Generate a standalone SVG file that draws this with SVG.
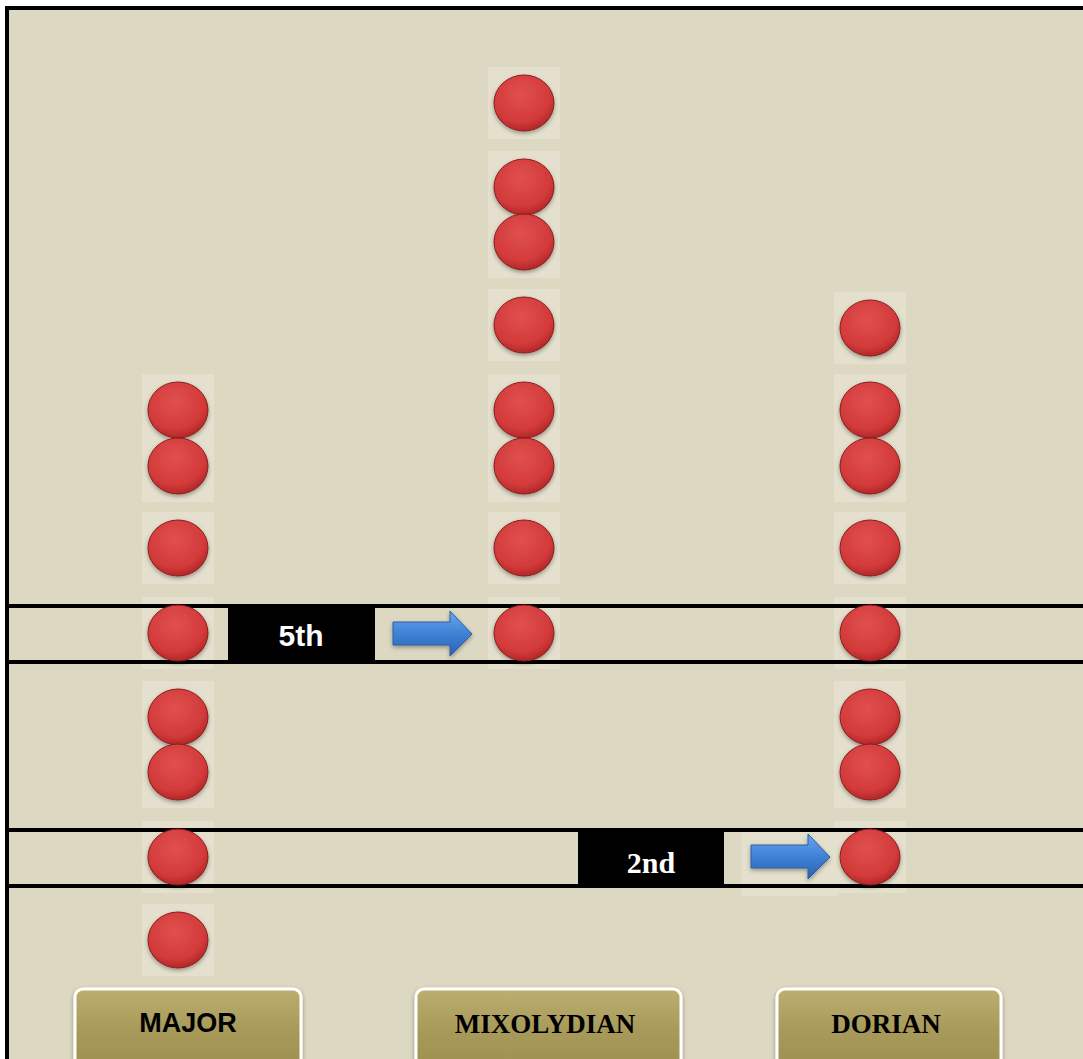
<svg xmlns="http://www.w3.org/2000/svg" width="1083" height="1059" viewBox="0 0 1083 1059">
<defs>
<radialGradient id="ball" cx="0.45" cy="0.35" r="0.7">
<stop offset="0" stop-color="#e0504f"/>
<stop offset="0.7" stop-color="#d33a3a"/>
<stop offset="1" stop-color="#a82222"/>
</radialGradient>
<linearGradient id="btn" x1="0" y1="0" x2="0" y2="1">
<stop offset="0" stop-color="#bcae70"/>
<stop offset="0.5" stop-color="#a89a5a"/>
<stop offset="1" stop-color="#9d9050"/>
</linearGradient>
<linearGradient id="arr" x1="0" y1="0" x2="0" y2="1">
<stop offset="0" stop-color="#6aa6ec"/>
<stop offset="0.5" stop-color="#3f82d6"/>
<stop offset="1" stop-color="#2a62b0"/>
</linearGradient>
<filter id="sh" x="-20%" y="-20%" width="140%" height="140%">
<feDropShadow dx="0" dy="2" stdDeviation="2" flood-color="#000" flood-opacity="0.35"/>
</filter>
<rect id="sq" x="-36" y="-36" width="72" height="72" fill="#e4e0cd"/>
<ellipse id="dot" cx="0" cy="0" rx="30" ry="28" fill="url(#ball)" stroke="#8a1c1c" stroke-width="1" filter="url(#sh)"/>
<path id="arrow" d="M0,10 H57 V-1 L79,22 L57,44 V33 H0 Z" fill="url(#arr)" stroke="#2a5fa8" stroke-width="1" filter="url(#sh)"/>
</defs>
<style>
.band{stroke:#000;stroke-width:4}
.lbl{fill:#fff;font-weight:bold;font-size:30px}
.btxt{fill:#000;font-weight:bold;font-size:27px}
</style>
<rect x="0" y="0" width="1083" height="1059" fill="#fff"/>
<rect x="7" y="8" width="1076" height="1051" fill="#ddd8c2"/>
<path d="M7,1059 V8 H1083" fill="none" stroke="#000" stroke-width="4"/>

<g id="backdrops">
<use href="#sq" x="178" y="410"/><use href="#sq" x="178" y="466"/><use href="#sq" x="178" y="548"/><use href="#sq" x="178" y="633"/>
<use href="#sq" x="178" y="717"/><use href="#sq" x="178" y="772"/><use href="#sq" x="178" y="857"/><use href="#sq" x="178" y="940"/>
<use href="#sq" x="524" y="103"/><use href="#sq" x="524" y="187"/><use href="#sq" x="524" y="242"/><use href="#sq" x="524" y="325"/>
<use href="#sq" x="524" y="410"/><use href="#sq" x="524" y="466"/><use href="#sq" x="524" y="548"/><use href="#sq" x="524" y="633"/>
<use href="#sq" x="870" y="328"/><use href="#sq" x="870" y="410"/><use href="#sq" x="870" y="466"/><use href="#sq" x="870" y="548"/>
<use href="#sq" x="870" y="633"/><use href="#sq" x="870" y="717"/><use href="#sq" x="870" y="772"/><use href="#sq" x="870" y="857"/>
<rect x="741" y="830" width="96" height="66" fill="#e4e0cd"/>
</g>

<g id="connectors">
<line class="band" x1="7" y1="606" x2="1083" y2="606"/>
<line class="band" x1="7" y1="662" x2="1083" y2="662"/>
<line class="band" x1="7" y1="830" x2="1083" y2="830"/>
<line class="band" x1="7" y1="886" x2="1083" y2="886"/>
<use href="#arrow" x="393" y="612"/>
<use href="#arrow" x="751" y="835"/>
</g>

<g id="major-dots">
<use href="#dot" x="178" y="410"/>
<use href="#dot" x="178" y="466"/>
<use href="#dot" x="178" y="548"/>
<use href="#dot" x="178" y="633"/>
<use href="#dot" x="178" y="717"/>
<use href="#dot" x="178" y="772"/>
<use href="#dot" x="178" y="857"/>
<use href="#dot" x="178" y="940"/>
</g>
<g id="mixolydian-dots">
<use href="#dot" x="524" y="103"/>
<use href="#dot" x="524" y="187"/>
<use href="#dot" x="524" y="242"/>
<use href="#dot" x="524" y="325"/>
<use href="#dot" x="524" y="410"/>
<use href="#dot" x="524" y="466"/>
<use href="#dot" x="524" y="548"/>
<use href="#dot" x="524" y="633"/>
</g>
<g id="dorian-dots">
<use href="#dot" x="870" y="328"/>
<use href="#dot" x="870" y="410"/>
<use href="#dot" x="870" y="466"/>
<use href="#dot" x="870" y="548"/>
<use href="#dot" x="870" y="633"/>
<use href="#dot" x="870" y="717"/>
<use href="#dot" x="870" y="772"/>
<use href="#dot" x="870" y="857"/>
</g>

<g id="label-5th">
<rect x="228" y="606" width="147" height="57" fill="#000"/>
<text class="lbl" x="301" y="646" text-anchor="middle" font-family="Liberation Sans, Arial, sans-serif">5th</text>
</g>
<g id="label-2nd">
<rect x="578" y="829" width="146" height="58" fill="#000"/>
<text class="lbl" x="651" y="873" text-anchor="middle" font-family="Liberation Serif, Times New Roman, serif">2nd</text>
</g>

<g id="btn-major">
<rect x="75" y="989" width="226" height="80" rx="8" fill="url(#btn)" stroke="#fff" stroke-width="3" filter="url(#sh)"/>
<text class="btxt" x="188" y="1032" text-anchor="middle" font-family="Liberation Sans, Arial, sans-serif">MAJOR</text>
</g>
<g id="btn-mixolydian">
<rect x="416" y="989" width="265" height="80" rx="8" fill="url(#btn)" stroke="#fff" stroke-width="3" filter="url(#sh)"/>
<text class="btxt" x="545" y="1033" text-anchor="middle" font-family="Liberation Serif, Times New Roman, serif">MIXOLYDIAN</text>
</g>
<g id="btn-dorian">
<rect x="777" y="989" width="224" height="80" rx="8" fill="url(#btn)" stroke="#fff" stroke-width="3" filter="url(#sh)"/>
<text class="btxt" x="886" y="1033" text-anchor="middle" font-family="Liberation Serif, Times New Roman, serif">DORIAN</text>
</g>
</svg>
